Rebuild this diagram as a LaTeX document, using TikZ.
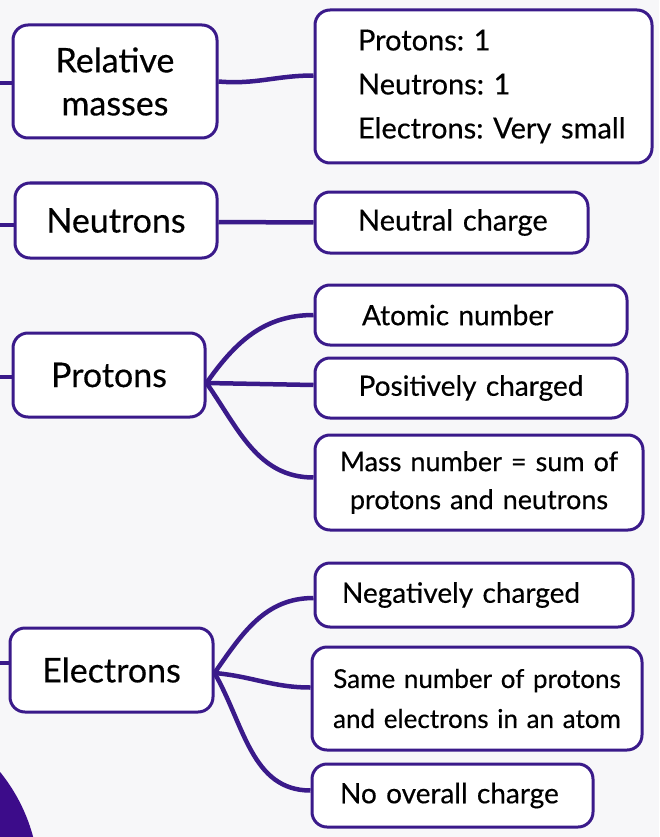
\documentclass[tikz,border=0pt]{standalone}
\usepackage{fontspec}
\setmainfont{Lato}[FakeBold=0.4]
\definecolor{ink}{RGB}{58,26,138}
\definecolor{orb}{RGB}{60,12,138}
\definecolor{bgc}{RGB}{247,247,249}
\frenchspacing
\begin{document}
\begin{tikzpicture}[x=1pt,y=-1pt,
  box/.style={draw=ink, line width=3pt, rounded corners=15pt, fill=white, inner ysep=0pt, anchor=center},
  sz/.style 2 args={minimum width=#1pt, minimum height=#2pt},
  title/.style={box, font=\fontsize{34}{43}\selectfont, align=center, inner xsep=6pt},
  leaf/.style={box, font=\fontsize{28}{40}\selectfont},
  link/.style={draw=ink, line width=4.5pt, line cap=butt}]
\useasboundingbox (0,0) rectangle (659,837);
\clip (0,0) rectangle (659,837);
\fill[bgc] (0,0) rectangle (659,837);
\fill[orb] (-136,882) circle (175pt);

% left stubs (free ends)
\coordinate (s1) at (0,83);
\coordinate (s2) at (0,225);
\coordinate (s3) at (0,377);
\coordinate (s4) at (0,663);

% main boxes
\node[title, sz={204}{113}, text width=192pt] (rm) at (115,81.5) {Relative\\masses};
\node[title, sz={202}{75}, text width=190pt] (neu) at (116,220.5) {Neutrons};
\node[title, sz={192}{84}, text width=180pt] (pro) at (109,375) {Protons};
\node[title, sz={203}{84}, text width=191pt] (ele) at (111.5,670) {Electrons};

% leaf boxes
\node[leaf, sz={337}{153}, font=\fontsize{29}{44}\selectfont, align=left, text width=251pt, inner xsep=43pt] (r1) at (483.5,86.5)
  {Protons: 1\\Neutrons: 1\\\mbox{Electrons: Very small}};
\node[leaf, sz={273}{61}, font=\fontsize{29}{40}\selectfont, align=left, text width=187pt, inner xsep=43pt] (r2) at (451.5,222.5)
  {\mbox{Neutral charge}};
\node[leaf, sz={312}{60}, align=left, text width=218pt, inner xsep=47pt] (p1) at (471,315) {Atomic number};
\node[leaf, sz={312}{60}, align=center, text width=296pt, inner xsep=8pt] (p2) at (471,388) {Positively charged};
\node[leaf, sz={328}{95}, font=\fontsize{27}{38}\selectfont, align=center, text width=312pt, inner xsep=8pt] (p3) at (479,482.5)
  {Mass number = sum of\\protons and neutrons};
\node[leaf, sz={318}{64}, align=left, text width=264pt, inner xsep=27pt] (e1) at (474,595) {Negatively charged};
\node[leaf, sz={330}{103}, font=\fontsize{26}{40}\selectfont, align=center, text width=316pt, inner xsep=7pt] (e2) at (477,698.5)
  {Same number of protons\\and electrons in an atom};
\node[leaf, sz={281}{63}, align=left, text width=225pt, inner xsep=28pt] (e3) at (452.5,795.5) {No overall charge};

% stubs
\draw[link] (s1) -- ([yshift=-1.5pt]rm.west);
\draw[link] (s2) -- ([yshift=-4.5pt]neu.west);
\draw[link] (s3) -- ([yshift=-2pt]pro.east -| pro.west);
\draw[link] (s4) -- ([yshift=7pt]ele.west);

% connectors
\draw[link] (rm.east) to[out=-5,in=180] ([yshift=11pt]r1.west);
\draw[link] ([yshift=-1.5pt]neu.east) -- (r2.west);
\draw[link] ([yshift=-8pt]pro.east) to[out=55,in=180] (p1.west);
\draw[link] ([yshift=-8pt]pro.east) -- ([yshift=3pt]p2.west);
\draw[link] ([yshift=-8pt]pro.east) to[out=-55,in=180] ([yshift=5pt]p3.west);
\draw[link] ([yshift=-3pt]ele.east) to[out=55,in=180] ([yshift=-3pt]e1.west);
\draw[link] ([yshift=-3pt]ele.east) to[out=-5,in=180] ([yshift=11pt]e2.west);
\draw[link] ([yshift=-3pt]ele.east) to[out=-60,in=180] ([yshift=5pt]e3.west);
\end{tikzpicture}
\end{document}
